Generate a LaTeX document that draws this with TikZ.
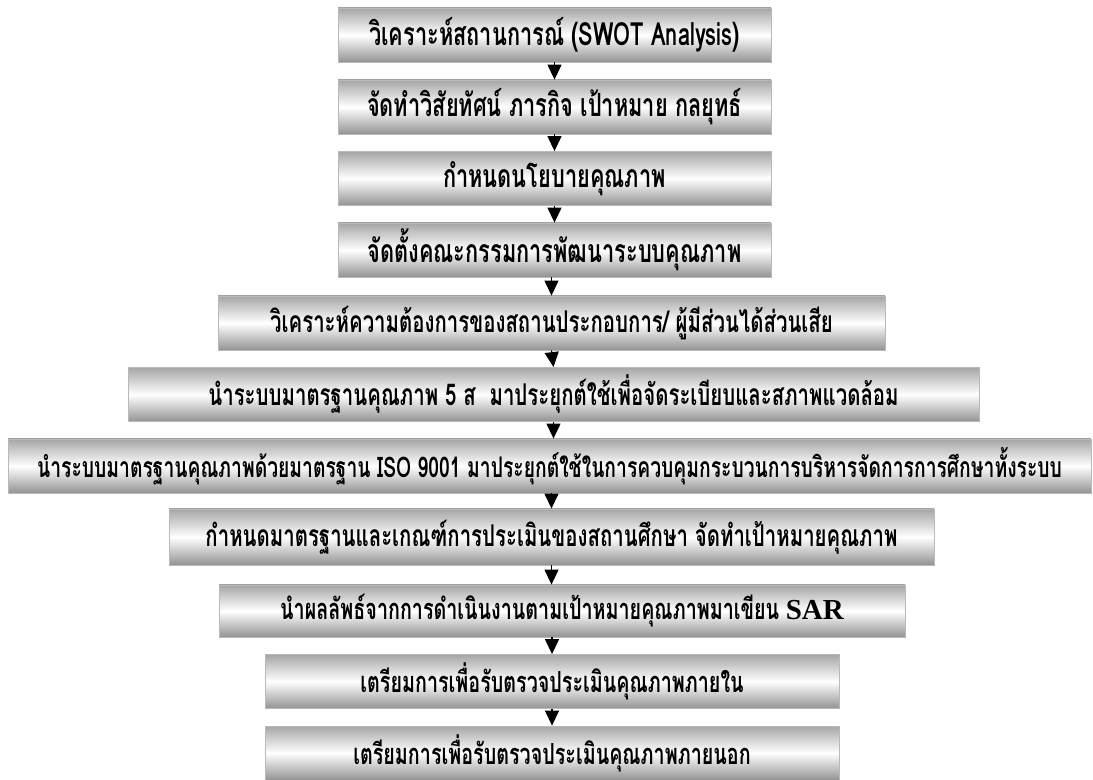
\documentclass[tikz,border=0pt]{standalone}
\usepackage{fontspec}
\usepackage{xcolor}
\usepackage{tikz}
\usetikzlibrary{arrows.meta}
\newfontfamily\thaifont[Script=Thai,FakeStretch=0.68]{Loma}
\newfontfamily\sarfont{Liberation Serif}

\begin{document}
\begin{tikzpicture}[x=0.5pt,y=-0.5pt,%
% common options for the steps:
stepbox/.style = {draw=gray!55, top color=gray!70, bottom color=gray!85, middle color=white,
            align=center, inner sep=0, minimum height=27pt,
            font=\thaifont\bfseries\fontsize{16}{18}\selectfont},
% smaller text for the long steps:
smalltext/.style = {font=\thaifont\bfseries\fontsize{#1}{18}\selectfont},
% common options for the arrows:
arr/.style = {-{Triangle[width=7pt,length=7.5pt]}, line width=0.6pt}]
\useasboundingbox (0,0) rectangle (1093,780);
\node[stepbox,minimum width=216.5pt] (S1) at (554.5,35) {วิเคราะห์สถานการณ์ (SWOT Analysis)};
\node[stepbox,minimum width=216.5pt] (S2) at (554.5,107) {จัดทำวิสัยทัศน์ ภารกิจ เป้าหมาย กลยุทธ์};
\node[stepbox,minimum width=216.5pt] (S3) at (554.5,178.5) {กำหนดนโยบายคุณภาพ};
\node[stepbox,minimum width=216.5pt] (S4) at (554.5,250) {จัดตั้งคณะกรรมการพัฒนาระบบคุณภาพ};
\node[stepbox,smalltext=15,minimum width=333.5pt] (S5) at (551.5,323) {วิเคราะห์ความต้องการของสถานประกอบการ/ ผู้มีส่วนได้ส่วนเสีย};
\node[stepbox,smalltext=15,minimum width=425.5pt] (S6) at (553.5,394.5) {นำระบบมาตรฐานคุณภาพ 5 ส~~มาประยุกต์ใช้เพื่อจัดระเบียบและสภาพแวดล้อม};
\node[stepbox,smalltext=14.2,minimum width=541.5pt] (S7) at (549.5,466) {นำระบบมาตรฐานคุณภาพด้วยมาตรฐาน ISO 9001 มาประยุกต์ใช้ในการควบคุมกระบวนการบริหารจัดการการศึกษาทั้งระบบ};
\node[stepbox,smalltext=15,minimum width=382.5pt,minimum height=28pt] (S8) at (551.5,537) {กำหนดมาตรฐานและเกณฑ์การประเมินของสถานศึกษา จัดทำเป้าหมายคุณภาพ};
\node[stepbox,smalltext=14.5,minimum width=343pt,minimum height=26pt] (S9) at (562,611) {นำผลลัพธ์จากการดำเนินงานตามเป้าหมายคุณภาพมาเขียน {\sarfont\bfseries SAR}};
\node[stepbox,smalltext=14.5,minimum width=287pt] (S10) at (552,681.5) {เตรียมการเพื่อรับตรวจประเมินคุณภาพภายใน};
\node[stepbox,smalltext=14.5,minimum width=287pt] (S11) at (552,753) {เตรียมการเพื่อรับตรวจประเมินคุณภาพภายนอก};
\draw[arr] (S1.south) to (S2.north);
\draw[arr] (S2.south) to (S3.north);
\draw[arr] (S3.south) to (S4.north);
\draw[arr] (S4.south -| S5.north) to (S5.north);
\draw[arr] (S5.south) to (S6.north);
\draw[arr] (S6.south) to (S6.south |- S7.north);
\draw[arr] (S7.south -| S8.north) to (S8.north);
\draw[arr] (S8.south) to (S8.south |- S9.north);
\draw[arr] (S9.south -| S10.north) to (S10.north);
\draw[arr] (S10.south) to (S11.north);
\end{tikzpicture}
\end{document}
